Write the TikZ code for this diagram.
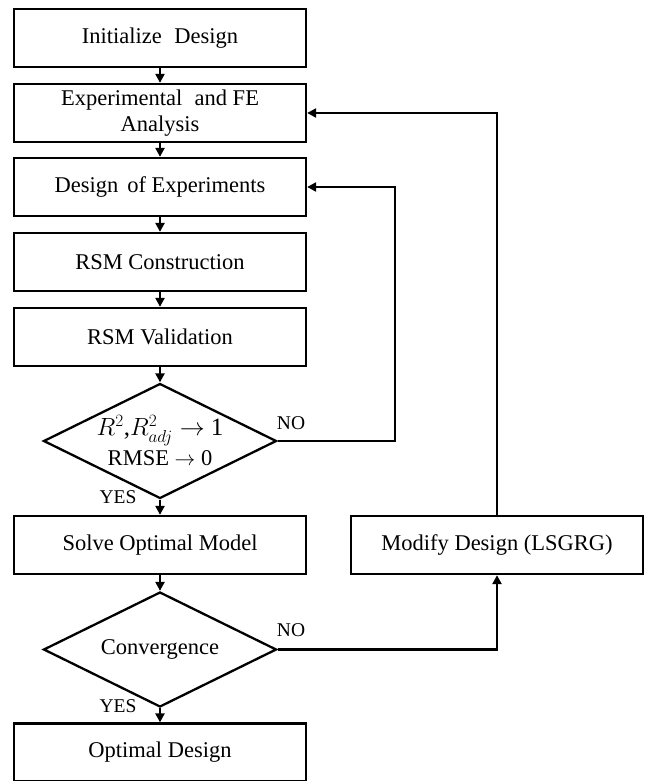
\documentclass[tikz,border=0pt]{standalone}
\usepackage{fontspec}
\setmainfont{Liberation Serif}
\usetikzlibrary{shapes.geometric,arrows.meta}
\begin{document}
\begin{tikzpicture}[x=1pt,y=-1pt,
  box/.style={draw,line width=2.3pt,minimum width=292pt,minimum height=58pt,inner sep=0pt,align=center,font=\fontsize{22.5}{25.5}\selectfont},
  dec/.style={draw,diamond,line width=2.3pt,minimum width=233pt,minimum height=115pt,inner sep=0pt},
  dtext/.style={align=center,inner sep=0pt,font=\fontsize{22.5}{30}\selectfont},
  arr/.style={line width=2.3pt,-{Triangle[length=9pt,width=9pt]}},
  lbl/.style={font=\fontsize{19.5}{22}\selectfont,inner sep=0pt}]
\useasboundingbox (0,0) rectangle (645,781);
\node[box] (b1) at (160,38) {Initialize\hspace{0.3em} Design};
\node[box] (b2) at (160,113) {Experimental\hspace{0.3em} and FE\\Analysis};
\node[box] (b3) at (160,187) {Design\hspace{0.15em} of Experiments};
\node[box] (b4) at (160,262) {RSM Construction};
\node[box] (b5) at (160,337) {RSM Validation};
\node[dec] (d1) at (160,441) {};
\node[dtext] (t1) at (d1.center) {{\fontsize{25}{30}\selectfont$R^2$,$R^2_{adj}\rightarrow$ 1}\\RMSE $\rightarrow$ 0};
\node[box] (sol) at (160,545) {Solve Optimal Model};
\node[dec] (d2) at (160,649.5) {};
\node[dtext] (t2) at (d2.center) {Convergence};
\node[box] (opt) at (160,752.5) {Optimal Design};
\node[box] (mod) at (497,545) {Modify Design (LSGRG)};
\draw[arr] (b1) -- (b2);
\draw[arr] (b2) -- (b3);
\draw[arr] (b3) -- (b4);
\draw[arr] (b4) -- (b5);
\draw[arr] (b5) -- (d1);
\draw[arr] (d1) -- (sol);
\draw[arr] (sol) -- (d2);
\draw[arr] (d2) -- (opt);
\draw[arr] (d1.east) -- ++(117,0) |- (b3.east);
\draw[arr] (d2.east) -| (mod.south);
\draw[arr] (mod.north) |- (b2.east);
\node[lbl] (no1) at (291,423) {NO};
\node[lbl] (no2) at (291,630) {NO};
\node[lbl] (yes1) at (118,497) {YES};
\node[lbl] (yes2) at (118,706) {YES};
\end{tikzpicture}
\end{document}
